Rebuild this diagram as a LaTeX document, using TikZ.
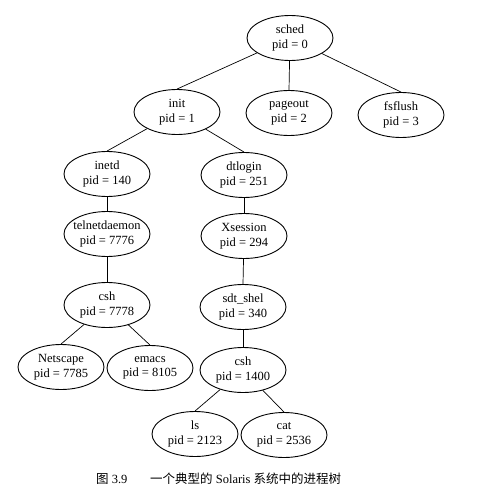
\documentclass[tikz,border=0pt]{standalone}
\usepackage{fontspec}
\setmainfont{Liberation Serif}
\newfontfamily\cjk{Noto Sans CJK SC}
\tikzset{
  proc/.style={ellipse, draw, line width=0.9pt, minimum width=86pt, minimum height=45pt,
    inner xsep=-4pt, inner ysep=0pt, align=center,
    font=\fontsize{12.5}{14.5}\selectfont},
  capt/.style={anchor=west, inner sep=0pt, font=\fontsize{12.5}{14}\selectfont}
}
\usetikzlibrary{shapes.geometric}
\begin{document}
\begin{tikzpicture}[x=1pt, y=-1pt, line join=round, line cap=round]
  \useasboundingbox (0,0) rectangle (480,492);
  % processes
  \node[proc] (sched)    at (290,38)  {sched\\pid = 0};
  \node[proc] (init)     at (177,112) {init\\pid = 1};
  \node[proc] (pageout)  at (289,113) {pageout\\pid = 2};
  \node[proc] (fsflush)  at (401,115) {fsflush\\pid = 3};
  \node[proc] (inetd)    at (107,174) {inetd\\pid = 140};
  \node[proc] (dtlogin)  at (244,175) {dtlogin\\pid = 251};
  \node[proc] (telnet)   at (107,234) {telnetdaemon\\pid = 7776};
  \node[proc] (xsession) at (244,236) {Xsession\\pid = 294};
  \node[proc] (cshA)     at (107,305) {csh\\pid = 7778};
  \node[proc] (sdtshel)  at (243,307) {sdt\_shel\\pid = 340};
  \node[proc] (netscape) at (61,367)  {Netscape\\pid = 7785};
  \node[proc] (emacs)    at (150,368) {emacs\\pid = 8105};
  \node[proc] (cshB)     at (243,370) {csh\\pid = 1400};
  \node[proc] (ls)       at (195,434) {ls\\pid = 2123};
  \node[proc] (cat)      at (284,435) {cat\\pid = 2536};
  % parent -> child
  \foreach \p/\c in {sched/init, sched/pageout, sched/fsflush, init/inetd, init/dtlogin,
      inetd/telnet, dtlogin/xsession, telnet/cshA, xsession/sdtshel, cshA/netscape,
      cshA/emacs, sdtshel/cshB, cshB/ls, cshB/cat}
    \draw[line width=0.7pt] (\p) -- (\c.north);
  % caption
  \node[capt] (capnum) at (96,479) {{\cjk 图} 3.9};
  \node[capt] (captxt) at (150,479) {{\cjk 一个典型的} Solaris {\cjk 系统中的进程树}};
\end{tikzpicture}
\end{document}
